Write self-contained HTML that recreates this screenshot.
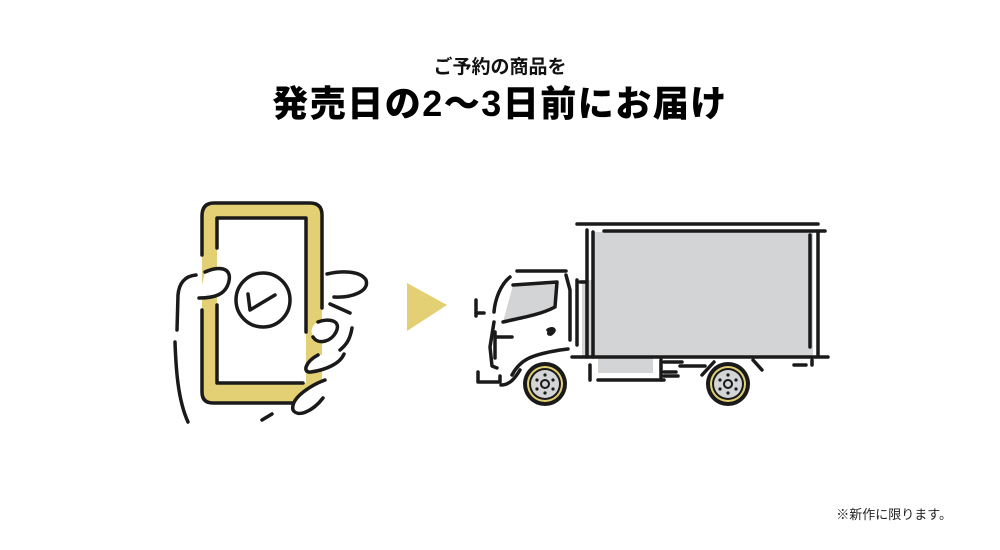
<!DOCTYPE html>
<html><head><meta charset="utf-8"><style>
html,body{margin:0;padding:0;background:#fff;}
body{width:1000px;height:550px;position:relative;overflow:hidden;font-family:"Liberation Sans","Noto Sans CJK JP",sans-serif;}
.t1{position:absolute;left:0;width:1000px;top:52px;text-align:center;font-size:19px;font-weight:bold;color:#111;}
.t2{position:absolute;left:0;width:1000px;top:82px;text-align:center;font-size:36px;font-weight:900;letter-spacing:1.5px;color:#000;line-height:44px;}
.t3{position:absolute;right:48px;top:504px;font-size:13px;color:#222;}
svg{position:absolute;left:0;top:0;}
</style></head><body>
<div class="t1">ご予約の商品を</div>
<div class="t2">発売日の2〜3日前にお届け</div>
<div class="t3">※新作に限ります。</div>
<svg width="1000" height="550" viewBox="0 0 1000 550" fill="none" stroke="#1a1a1a" stroke-width="3.5" stroke-linecap="round" stroke-linejoin="round">
<!-- phone -->
<rect x="202" y="202" width="120" height="201" rx="11" fill="#e3cf74" stroke="none"/>
<rect x="217" y="218" width="89" height="165" fill="#fff" stroke="none"/>
<path d="M202 255 V216 Q202 203 214 203 H310 Q322 203 322 215 V308"/>
<path d="M202 310 V392 Q202 403 213 403 H296"/>
<path d="M217 248 V218 H306 V332"/>
<path d="M217 305 V383 H303"/>
<circle cx="263" cy="300" r="27" fill="#fff"/>
<path d="M248 294 L250 310 L275 295"/>
<!-- hand -->
<path d="M205 272 C218 266 232 267 229 281 C226 295 214 298 199 298" fill="#fff"/>
<path d="M196 275 C185 276 179 283 178 295 L177 330"/>
<path d="M175 342 C176 370 178 400 188 422"/>
<path d="M327 274 C340 271 360 270 366 280 C370 292 350 298 334 297"/>
<path d="M330 304 L350 313"/>
<path d="M318 322 C328 318 342 320 336 332 C331 342 318 345 313 337 C310 330 312 325 318 322Z" fill="#fff" stroke="none"/>
<path d="M318 322 C328 318 342 320 336 332 C331 342 318 345 313 337"/>
<path d="M352 328 C350 340 346 345 340 350"/>
<path d="M318 355 C305 362 302 373 311 372 C325 370 340 364 344 354Z" fill="#fff" stroke="none"/>
<path d="M318 355 C305 362 302 373 311 372 C325 370 340 364 344 354"/>
<path d="M325 380 C314 384 290 397 293 410 C298 418 313 411 323 398Z" fill="#fff" stroke="none"/>
<path d="M325 380 C314 384 290 397 293 410 C298 418 313 411 323 398"/>
<path d="M272 414 L262 420"/>
<!-- arrow -->
<polygon points="407,283 447,305 407,331" fill="#e3cf74" stroke="none"/>
<!-- truck -->
<rect x="593" y="232" width="220" height="125" fill="#d3d4d6" stroke="none"/>
<rect x="598" y="357" width="55" height="16" fill="#d3d4d6" stroke="none"/>
<rect x="582" y="280" width="12" height="77" fill="#d3d4d6" stroke="none"/>
<polygon points="513,285 557,282 555,307 503,322" fill="#d3d4d6" stroke="none"/>
<path d="M577 224 H818"/>
<path d="M604 231 H825"/>
<path d="M587 230 V357"/>
<path d="M593 232 V357"/>
<path d="M810 235 V347"/>
<path d="M818 232 V355"/>
<path d="M572 357 H828"/>
<path d="M517 271 H566"/>
<path d="M513 285 L557 282 L555 307 C540 315 520 318 503 322"/>
<path d="M510 277 C500 285 495 300 494 312"/>
<path d="M566 275 L570 290 L570 340"/>
<path d="M577 280 V345"/>
<path d="M580 282 H585"/>
<path d="M476 300 V316"/>
<path d="M476 313 H484"/>
<path d="M494 322 L490 347 L492 366 L497 368"/>
<path d="M495 332 V358"/>
<path d="M497 337 H512"/>
<path d="M478 372 V382 H500 V376"/>
<path d="M512 375 C520 360 530 355 560 350 L568 349"/>
<path d="M501 385 C510 385 515 378 520 370"/>
<path d="M548 330 C553 327 557 330 551 334 C547 335 549 331 552 331"/>
<path d="M590 365 V380"/>
<path d="M598 380 H664"/>
<path d="M661 360 V380"/>
<path d="M664 362 H682"/>
<path d="M664 372 H676"/>
<path d="M664 376 H678"/>
<path d="M680 366 H705"/>
<path d="M702 375 L714 362"/>
<path d="M753 360 L762 370"/>
<path d="M794 365 H806"/>
<path d="M812 360 V365"/>
<g>
<circle cx="545" cy="384" r="22" fill="#1a1a1a" stroke="none"/>
<circle cx="545" cy="384" r="18" fill="#e3cf74" stroke="none"/>
<circle cx="545" cy="384" r="16" fill="#1a1a1a" stroke="none"/>
<circle cx="545" cy="384" r="14" fill="#d3d4d6" stroke="none"/>
<circle cx="545" cy="384" r="4" stroke-width="2"/>
<g fill="#1a1a1a" stroke="none"><circle cx="545" cy="375" r="1.6"/><circle cx="545" cy="393" r="1.6"/><circle cx="537" cy="380" r="1.6"/><circle cx="553" cy="380" r="1.6"/><circle cx="537" cy="389" r="1.6"/><circle cx="553" cy="389" r="1.6"/></g>
</g>
<g>
<circle cx="728" cy="384" r="22" fill="#1a1a1a" stroke="none"/>
<circle cx="728" cy="384" r="18" fill="#e3cf74" stroke="none"/>
<circle cx="728" cy="384" r="16" fill="#1a1a1a" stroke="none"/>
<circle cx="728" cy="384" r="14" fill="#d3d4d6" stroke="none"/>
<circle cx="728" cy="384" r="4" stroke-width="2"/>
<g fill="#1a1a1a" stroke="none"><circle cx="728" cy="375" r="1.6"/><circle cx="728" cy="393" r="1.6"/><circle cx="720" cy="380" r="1.6"/><circle cx="736" cy="380" r="1.6"/><circle cx="720" cy="389" r="1.6"/><circle cx="736" cy="389" r="1.6"/></g>
</g>
</svg>
</body></html>
